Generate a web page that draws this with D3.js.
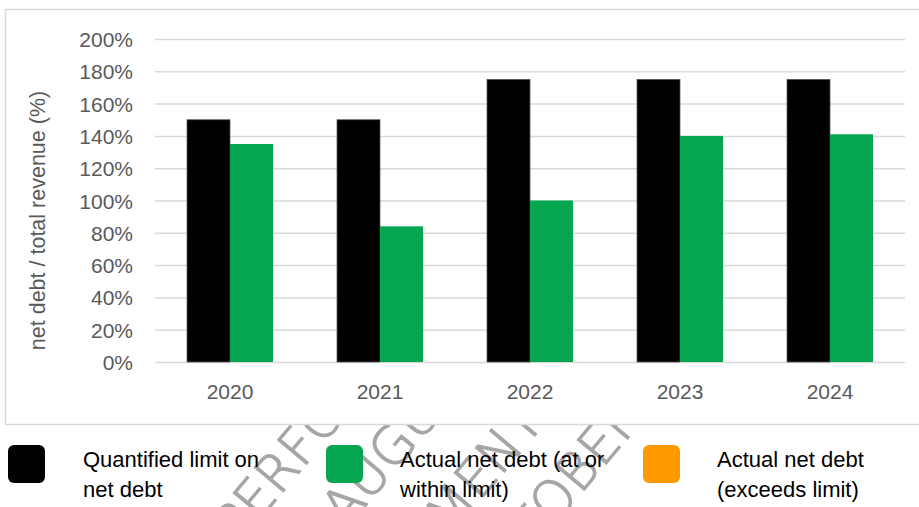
<!DOCTYPE html>
<html>
<head>
<meta charset="utf-8">
<script src="https://cdn.jsdelivr.net/npm/d3@7"></script>
<style>
  body { margin: 0; background: #fff; }
  svg { display: block; }
</style>
</head>
<body>
<div id="chart"></div>
<script>
// chart values
var years = ["2020", "2021", "2022", "2023", "2024"];
var limitValues = [150, 150, 175, 175, 175];      // quantified limit on net debt
var actualWithin = [135, 84, 100, 140, 141];      // actual net debt (at or within limit)
var actualExceeds = [0, 0, 0, 0, 0];              // actual net debt (exceeds limit)
var yTicks = [0, 20, 40, 60, 80, 100, 120, 140, 160, 180, 200];
var legendLabels = [
  ["Quantified limit on", "net debt"],
  ["Actual net debt (at or", "within limit)"],
  ["Actual net debt", "(exceeds limit)"]
];
var watermarkLines = ["PERFORMANCE", "AUGUST", "COMMENT", "OCTOBER"];

var svgWidth = 919;
var svgHeight = 507;

var plot = { left: 155, right: 905, top: 39, bottom: 362 };

var colors = { limit: "#000000", within: "#06a651", exceeds: "#ff9900" };

var svg = d3.select("#chart")
  .append("svg")
  .attr("width", svgWidth)
  .attr("height", svgHeight);

// faint document watermark sitting behind everything
var wmPos = [[238, 546], [346, 530], [372, 630], [484, 610]];
svg.append("g")
  .selectAll("text")
  .data(watermarkLines)
  .enter()
  .append("text")
  .attr("transform", (d, i) => `translate(${wmPos[i][0]},${wmPos[i][1]}) rotate(-50)`)
  .attr("font-family", "DejaVu Sans")
  .attr("font-weight", 200)
  .attr("font-size", 52)
  .attr("fill", "#a6a6a6")
  .attr("stroke", "#a6a6a6")
  .attr("stroke-width", 1.3)
  .text(d => d);

// chart area box
svg.append("rect")
  .attr("x", 5.5)
  .attr("y", 9.5)
  .attr("width", 930)
  .attr("height", 415)
  .attr("fill", "#fff")
  .attr("stroke", "#d9d9d9")
  .attr("stroke-width", 1.5);

var x = d3.scaleBand()
  .domain(years)
  .range([plot.left, plot.right])
  .paddingInner(64 / 150)
  .paddingOuter(32 / 150);

var xSub = d3.scaleBand()
  .domain(["limit", "actual"])
  .range([0, x.bandwidth()]);

var y = d3.scaleLinear()
  .domain([0, 200])
  .range([plot.bottom, plot.top]);

// gridlines + y tick labels
var yAxis = d3.axisLeft(y)
  .tickValues(yTicks)
  .tickSize(-(plot.right - plot.left))
  .tickPadding(22)
  .tickFormat(d => d + "%");

var gy = svg.append("g")
  .attr("transform", `translate(${plot.left},0)`)
  .call(yAxis);
gy.select(".domain").remove();
gy.selectAll(".tick line")
  .attr("stroke", "#d9d9d9")
  .attr("stroke-width", 1.5);
gy.selectAll(".tick text")
  .attr("fill", "#595959")
  .attr("font-family", "Liberation Sans, Arial, sans-serif")
  .attr("font-size", 21)
  .attr("dy", "0.36em");

// x labels
var xAxis = d3.axisBottom(x).tickSize(0).tickPadding(22);
var gx = svg.append("g")
  .attr("transform", `translate(0,${plot.bottom})`)
  .call(xAxis);
gx.select(".domain").remove();
gx.selectAll(".tick text")
  .attr("fill", "#595959")
  .attr("font-family", "Liberation Sans, Arial, sans-serif")
  .attr("font-size", 21);

// limit bars
svg.append("g")
  .selectAll("rect")
  .data(years)
  .enter()
  .append("rect")
  .attr("x", (d, i) => x(d) + xSub("limit"))
  .attr("y", (d, i) => y(limitValues[i]))
  .attr("width", xSub.bandwidth())
  .attr("height", (d, i) => y(0) - y(limitValues[i]))
  .attr("fill", colors.limit)
  .attr("stroke", "#555")
  .attr("stroke-width", 0.75);

// actual bars, within + exceeds stacked
var stackRows = years.map((d, i) => ({ year: d, within: actualWithin[i], exceeds: actualExceeds[i] }));
var stacked = d3.stack().keys(["within", "exceeds"])(stackRows);

svg.append("g")
  .selectAll("g")
  .data(stacked)
  .enter()
  .append("g")
  .attr("fill", d => colors[d.key])
  .selectAll("rect")
  .data(d => d)
  .enter()
  .append("rect")
  .attr("x", d => x(d.data.year) + xSub("actual"))
  .attr("y", d => y(d[1]))
  .attr("width", xSub.bandwidth())
  .attr("height", d => y(d[0]) - y(d[1]));

// legend
var legendX = [8, 326, 643];
var legendTextX = [83, 400, 717];
var legendColors = [colors.limit, colors.within, colors.exceeds];

var legend = svg.append("g")
  .selectAll("g")
  .data(legendLabels)
  .enter()
  .append("g");

legend.append("rect")
  .attr("x", (d, i) => legendX[i])
  .attr("y", 445)
  .attr("width", 37)
  .attr("height", 38)
  .attr("rx", 6)
  .attr("fill", (d, i) => legendColors[i]);

legend.append("text")
  .attr("font-family", "Liberation Sans, Arial, sans-serif")
  .attr("font-size", 22)
  .attr("fill", "#000")
  .selectAll("tspan")
  .data((d, i) => d.map(t => ({ t: t, i: i })))
  .enter()
  .append("tspan")
  .attr("x", d => legendTextX[d.i])
  .attr("y", (d, j) => 467 + j * 30)
  .text(d => d.t);

// y axis title
svg.append("text")
  .attr("transform", `translate(45,${(plot.top + plot.bottom) / 2 + 20}) rotate(-90)`)
  .attr("text-anchor", "middle")
  .attr("fill", "#595959")
  .attr("font-family", "Liberation Sans, Arial, sans-serif")
  .attr("font-size", 21.5)
  .text("net debt / total revenue (%)");
</script>
</body>
</html>
